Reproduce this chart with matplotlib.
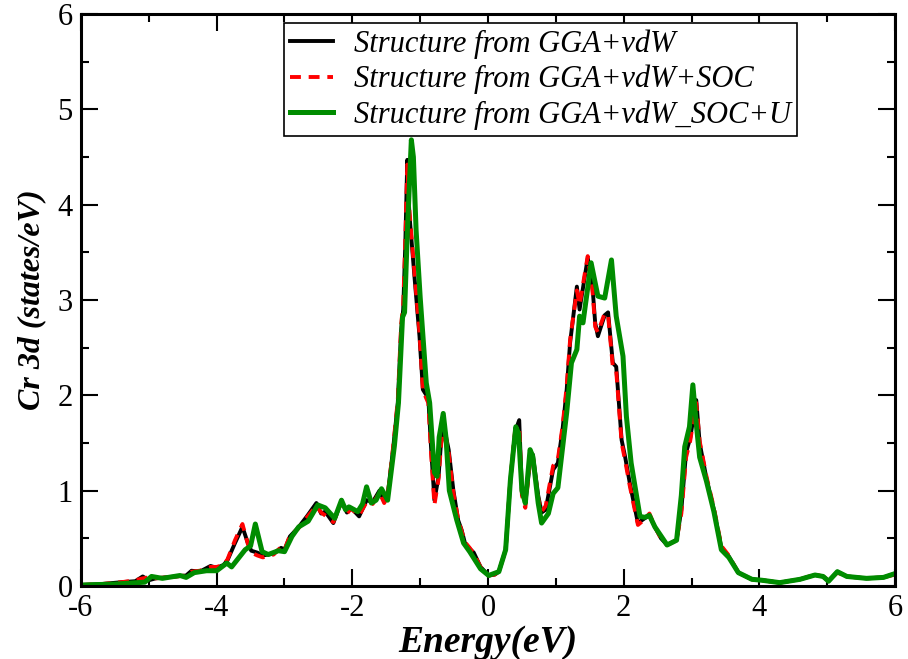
import numpy as np
import matplotlib
matplotlib.use("Agg")
import matplotlib.pyplot as plt
from matplotlib.ticker import MultipleLocator

plt.rcParams['font.family'] = ['Liberation Serif', 'DejaVu Serif']
plt.rcParams['axes.unicode_minus'] = False

# Cr 3d PDOS, structure from GGA+vdW (black)
black_x = [-6.00, -5.70, -5.40, -5.20, -5.09, -5.00, -4.90, -4.75, -4.60, -4.45,
           -4.37, -4.25, -4.09, -4.00, -3.90, -3.84, -3.73, -3.62, -3.54, -3.49,
           -3.40, -3.32, -3.16, -3.05, -3.00, -2.92, -2.80, -2.67, -2.53, -2.46,
           -2.40, -2.28, -2.16, -2.08, -2.02, -1.90, -1.79, -1.70, -1.60, -1.53,
           -1.48, -1.40, -1.33, -1.28, -1.25, -1.22, -1.19, -1.16, -1.08, -1.01,
           -0.96, -0.88, -0.84, -0.79, -0.73, -0.69, -0.64, -0.58, -0.51, -0.44,
           -0.39, -0.34, -0.27, -0.21, -0.11, 0.01, 0.10, 0.16, 0.26, 0.33,
           0.40, 0.46, 0.50, 0.55, 0.62, 0.66, 0.74, 0.79, 0.85, 0.96,
           1.03, 1.10, 1.16, 1.21, 1.31, 1.35, 1.47, 1.54, 1.58, 1.62,
           1.72, 1.77, 1.84, 1.89, 1.97, 2.02, 2.09, 2.21, 2.31, 2.38,
           2.46, 2.55, 2.64, 2.78, 2.85, 2.92, 2.98, 3.07, 3.12, 3.22,
           3.33, 3.44, 3.55, 3.69, 3.89, 4.04, 4.30, 4.60, 4.82, 4.94,
           5.02, 5.15, 5.29, 5.58, 5.83, 6.00]
black_y = [0.01, 0.02, 0.04, 0.05, 0.10, 0.06, 0.08, 0.09, 0.10, 0.11,
           0.16, 0.15, 0.21, 0.19, 0.22, 0.27, 0.45, 0.62, 0.45, 0.37,
           0.35, 0.32, 0.34, 0.40, 0.38, 0.52, 0.61, 0.73, 0.87, 0.76,
           0.78, 0.66, 0.89, 0.77, 0.82, 0.73, 0.90, 0.88, 1.00, 0.89,
           0.95, 1.43, 1.92, 2.69, 2.90, 3.56, 4.47, 3.91, 3.21, 2.62,
           2.06, 1.97, 1.46, 0.90, 1.14, 1.53, 1.64, 1.43, 1.00, 0.69,
           0.59, 0.45, 0.39, 0.35, 0.20, 0.11, 0.12, 0.15, 0.38, 1.11,
           1.62, 1.74, 1.00, 0.87, 1.30, 1.38, 0.95, 0.77, 0.80, 1.22,
           1.29, 1.65, 2.06, 2.55, 3.14, 2.90, 3.44, 3.14, 2.76, 2.62,
           2.84, 2.87, 2.34, 2.30, 1.53, 1.36, 1.08, 0.66, 0.71, 0.74,
           0.62, 0.50, 0.43, 0.48, 0.80, 1.40, 1.55, 1.95, 1.50, 1.13,
           0.80, 0.40, 0.31, 0.14, 0.07, 0.06, 0.035, 0.07, 0.115, 0.10,
           0.05, 0.15, 0.10, 0.08, 0.09, 0.13]

# structure from GGA+vdW+SOC (red dashed), nearly on top of black
red_x = black_x
red_y = [0.01, 0.02, 0.04, 0.06, 0.08, 0.09, 0.08, 0.09, 0.10, 0.11,
         0.15, 0.16, 0.20, 0.20, 0.22, 0.28, 0.48, 0.65, 0.44, 0.35,
         0.32, 0.30, 0.33, 0.41, 0.38, 0.53, 0.60, 0.72, 0.84, 0.77,
         0.74, 0.67, 0.88, 0.76, 0.81, 0.74, 0.88, 0.86, 0.98, 0.87,
         0.94, 1.45, 1.95, 2.75, 2.95, 3.60, 4.42, 3.95, 3.25, 2.65,
         2.05, 1.92, 1.40, 0.85, 1.12, 1.50, 1.62, 1.40, 0.98, 0.70,
         0.58, 0.46, 0.40, 0.34, 0.20, 0.11, 0.12, 0.15, 0.38, 1.12,
         1.64, 1.68, 0.95, 0.82, 1.32, 1.36, 0.92, 0.78, 0.84, 1.26,
         1.33, 1.68, 2.10, 2.58, 3.10, 2.95, 3.46, 3.10, 2.72, 2.66,
         2.86, 2.84, 2.30, 2.26, 1.50, 1.32, 1.05, 0.64, 0.70, 0.76,
         0.62, 0.50, 0.43, 0.48, 0.76, 1.35, 1.52, 1.92, 1.52, 1.15,
         0.82, 0.42, 0.32, 0.14, 0.07, 0.06, 0.035, 0.07, 0.12, 0.10,
         0.06, 0.14, 0.10, 0.08, 0.09, 0.12]

# structure from GGA+vdW_SOC+U (green)
green_x = [-6.00, -5.50, -5.06, -4.96, -4.80, -4.54, -4.45, -4.33, -4.15, -4.00,
           -3.85, -3.78, -3.68, -3.58, -3.50, -3.43, -3.33, -3.24, -3.09, -3.00,
           -2.89, -2.79, -2.65, -2.51, -2.40, -2.26, -2.16, -2.10, -2.05, -1.92,
           -1.85, -1.79, -1.72, -1.65, -1.57, -1.48, -1.38, -1.32, -1.26, -1.23,
           -1.19, -1.13, -1.10, -1.06, -1.00, -0.91, -0.86, -0.79, -0.75, -0.72,
           -0.66, -0.62, -0.57, -0.46, -0.36, -0.27, -0.11, 0.01, 0.16, 0.26,
           0.33, 0.41, 0.45, 0.50, 0.55, 0.62, 0.66, 0.74, 0.79, 0.89,
           0.96, 1.03, 1.16, 1.23, 1.31, 1.35, 1.40, 1.52, 1.62, 1.72,
           1.82, 1.89, 1.99, 2.04, 2.11, 2.24, 2.31, 2.38, 2.46, 2.64,
           2.78, 2.85, 2.90, 2.97, 3.02, 3.07, 3.12, 3.22, 3.33, 3.44,
           3.55, 3.69, 3.89, 4.04, 4.30, 4.60, 4.82, 4.94, 5.02, 5.15,
           5.29, 5.58, 5.83, 6.00]
green_y = [0.01, 0.02, 0.04, 0.10, 0.08, 0.11, 0.09, 0.14, 0.16, 0.16,
           0.24, 0.20, 0.29, 0.38, 0.42, 0.65, 0.36, 0.33, 0.37, 0.36,
           0.52, 0.62, 0.68, 0.85, 0.82, 0.71, 0.90, 0.80, 0.83, 0.78,
           0.86, 1.04, 0.87, 0.90, 1.02, 0.90, 1.47, 1.92, 2.82, 2.87,
           3.70, 4.68, 4.50, 3.73, 3.03, 2.13, 1.92, 1.19, 1.15, 1.56,
           1.81, 1.56, 1.00, 0.69, 0.45, 0.36, 0.18, 0.11, 0.15, 0.38,
           1.11, 1.67, 1.60, 1.00, 0.87, 1.43, 1.36, 0.87, 0.66, 0.76,
           0.97, 1.03, 1.82, 2.34, 2.48, 2.83, 2.76, 3.39, 3.04, 3.02,
           3.42, 2.83, 2.41, 1.78, 1.29, 0.73, 0.72, 0.74, 0.62, 0.43,
           0.48, 0.95, 1.46, 1.67, 2.11, 1.70, 1.35, 1.10, 0.78, 0.38,
           0.30, 0.14, 0.07, 0.06, 0.035, 0.07, 0.115, 0.10, 0.05, 0.15,
           0.10, 0.08, 0.09, 0.13]

labels = ["Structure from GGA+vdW",
          "Structure from GGA+vdW+SOC",
          "Structure from GGA+vdW_SOC+U"]

fig = plt.figure(figsize=(9.08, 6.59), dpi=100)
ax = fig.add_axes([0.0892, 0.1108, 0.8965, 0.868])

ax.plot(black_x, black_y, color='black', lw=2.8, label=labels[0])
ax.plot(red_x, red_y, color='red', lw=2.8, ls=(0, (2.8, 2.0)), label=labels[1])
ax.plot(green_x, green_y, color='#008c00', lw=3.6, label=labels[2])

ax.set_xlim(-6, 6)
ax.set_ylim(0, 6)
ax.xaxis.set_major_locator(MultipleLocator(2))
ax.xaxis.set_minor_locator(MultipleLocator(1))
ax.yaxis.set_major_locator(MultipleLocator(1))
ax.yaxis.set_minor_locator(MultipleLocator(0.5))
ax.tick_params(which='both', direction='in', top=True, right=True, width=1.5)
ax.tick_params(which='major', length=12, labelsize=22, pad=6)
ax.tick_params(which='minor', length=6)
for s in ax.spines.values():
    s.set_linewidth(2.2)

ax.set_xlabel("Energy(eV)", fontsize=27, fontweight='bold', style='italic', labelpad=1)
ax.set_ylabel("Cr 3d (states/eV)", fontsize=23, fontweight='bold', style='italic', labelpad=8)

leg = ax.legend(loc='upper left', bbox_to_anchor=(0.249, 0.984),
                prop={'style': 'italic', 'size': 22}, fancybox=False, framealpha=1,
                edgecolor='black', handlelength=1.4, borderpad=0.2,
                labelspacing=0.2, handletextpad=0.7, borderaxespad=0)
leg.get_frame().set_linewidth(1.2)

fig.savefig("out.png", dpi=100)
